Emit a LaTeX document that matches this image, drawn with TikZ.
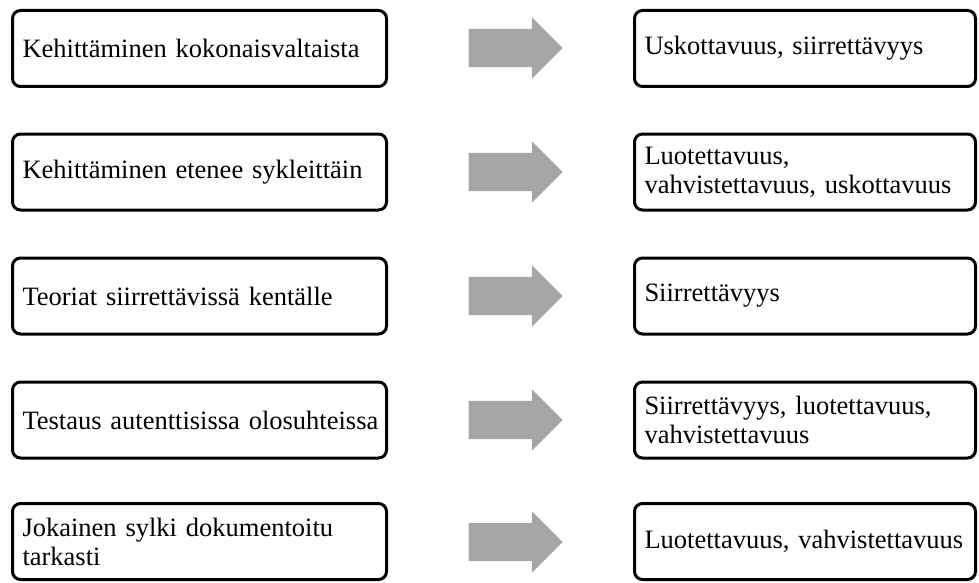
\documentclass[tikz,border=0pt]{standalone}
\usepackage{fontspec}
\setmainfont{Liberation Serif}
\usetikzlibrary{shapes.arrows}
\definecolor{arrowgray}{RGB}{166,166,166}

\begin{document}
\begin{tikzpicture}[x=1pt, y=-1pt,
    box/.style={draw, line width=3pt, rounded corners=8pt, inner xsep=10pt, inner ysep=0pt,
      minimum height=76pt, align=left, font=\fontsize{26.5}{29}\selectfont},
    leftbox/.style={box, text width=354pt, minimum width=374pt},
    rightbox/.style={box, text width=321pt, minimum width=341pt},
    bigarrow/.style={single arrow, fill=arrowgray, draw=none, inner xsep=0pt, inner ysep=19pt,
      single arrow head extend=11.5pt, minimum height=94pt}]
  \useasboundingbox (0,0) rectangle (979,583);
  % left column
  \node[leftbox] (l1) at (199.5, 48.5) {Kehittäminen kokonaisvaltaista};
  \node[leftbox] (l2) at (199.5, 172) {Kehittäminen etenee sykleittäin};
  \node[leftbox] (l3) at (199.5, 296) {Teoriat siirrettävissä kentälle};
  \node[leftbox] (l4) at (199.5, 420) {\mbox{Testaus autenttisissa olosuhteissa}};
  \node[leftbox] (l5) at (199.5, 541.5) {Jokainen sylki dokumentoitu\\tarkasti};
  % arrows
  \node[bigarrow] (a1) at (506, 48) {};
  \node[bigarrow] (a2) at (506, 172) {};
  \node[bigarrow] (a3) at (506, 296) {};
  \node[bigarrow] (a4) at (506, 420) {};
  \node[bigarrow] (a5) at (506, 542) {};
  % right column
  \node[rightbox] (r1) at (805, 48.5) {Uskottavuus, siirrettävyys};
  \node[rightbox] (r2) at (805, 172) {Luotettavuus,\\vahvistettavuus, uskottavuus};
  \node[rightbox] (r3) at (805, 296) {Siirrettävyys};
  \node[rightbox] (r4) at (805, 420) {Siirrettävyys, luotettavuus,\\vahvistettavuus};
  \node[rightbox] (r5) at (805, 541.5) {Luotettavuus, vahvistettavuus};
\end{tikzpicture}
\end{document}
